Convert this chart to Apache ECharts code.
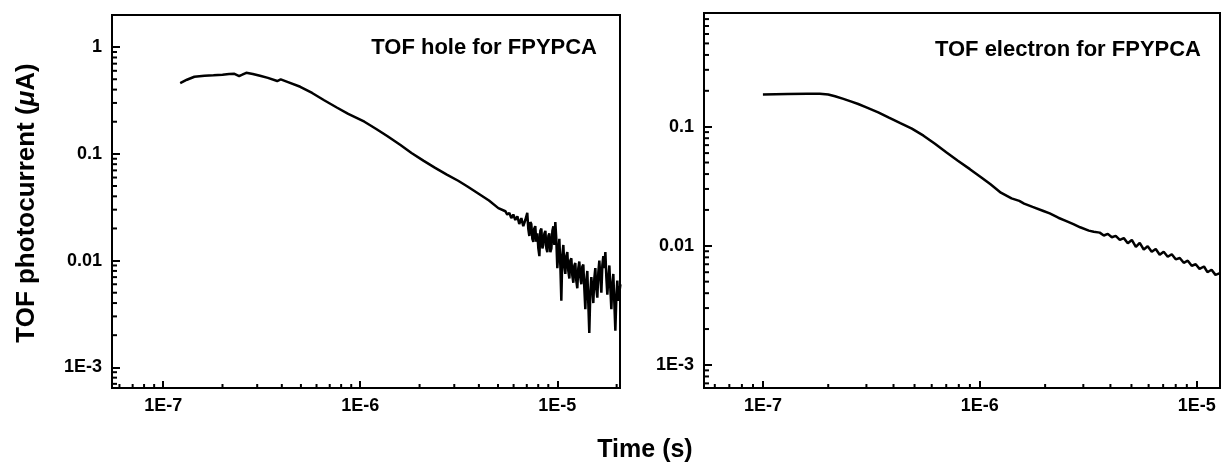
<!DOCTYPE html>
<html>
<head>
<meta charset="utf-8">
<script src="https://cdn.jsdelivr.net/npm/echarts@6/dist/echarts.min.js"></script>
<style>
  html, body { margin: 0; padding: 0; background: #fff; }
  #chart { width: 1223px; height: 472px; }
</style>
</head>
<body>
<div id="chart"></div>
<script>
// TOF hole transient (left panel)
const holeTime = [
  1.22e-7, 1.32e-7, 1.44e-7, 1.62e-7, 1.80e-7, 2.0e-7, 2.16e-7, 2.30e-7, 2.43e-7, 2.52e-7,
  2.64e-7, 2.85e-7, 3.1e-7, 3.4e-7, 3.79e-7, 3.95e-7, 4.3e-7, 4.96e-7, 5.7e-7, 6.56e-7,
  7.6e-7, 8.69e-7, 1.05e-6, 1.2e-6, 1.37e-6, 1.6e-6, 1.82e-6, 2.1e-6, 2.4e-6, 2.75e-6,
  3.14e-6, 3.5e-6, 3.97e-6, 4.5e-6, 5.02e-6,
  5.45e-6, 5.57e-6, 5.71e-6, 5.84e-6, 5.98e-6, 6.12e-6, 6.27e-6, 6.41e-6, 6.57e-6, 6.72e-6,
  6.88e-6, 7.04e-6, 7.12e-6, 7.21e-6, 7.30e-6, 7.38e-6, 7.47e-6, 7.56e-6, 7.64e-6, 7.73e-6,
  7.82e-6, 7.92e-6, 8.01e-6, 8.11e-6, 8.20e-6, 8.30e-6, 8.40e-6, 8.49e-6, 8.60e-6, 8.70e-6,
  8.80e-6, 8.90e-6, 9.01e-6, 9.11e-6, 9.22e-6, 9.33e-6, 9.44e-6, 9.55e-6, 9.66e-6, 9.77e-6,
  9.88e-6, 1.00e-5, 1.012e-5, 1.024e-5, 1.036e-5, 1.048e-5, 1.060e-5, 1.073e-5, 1.085e-5, 1.098e-5,
  1.111e-5, 1.124e-5, 1.137e-5, 1.151e-5, 1.164e-5, 1.178e-5, 1.192e-5, 1.206e-5, 1.220e-5, 1.234e-5,
  1.248e-5, 1.263e-5, 1.278e-5, 1.293e-5, 1.308e-5, 1.324e-5, 1.339e-5, 1.355e-5, 1.371e-5, 1.387e-5,
  1.403e-5, 1.420e-5, 1.436e-5, 1.453e-5, 1.470e-5, 1.488e-5, 1.505e-5, 1.523e-5, 1.541e-5, 1.559e-5,
  1.577e-5, 1.596e-5, 1.615e-5, 1.634e-5, 1.653e-5, 1.673e-5, 1.692e-5, 1.712e-5, 1.732e-5, 1.753e-5,
  1.773e-5, 1.794e-5, 1.815e-5, 1.837e-5, 1.858e-5, 1.880e-5, 1.902e-5, 1.924e-5, 1.947e-5, 1.970e-5,
  1.993e-5, 2.016e-5, 2.040e-5, 2.064e-5, 2.09e-5
];
const holeCurrent = [
  0.461, 0.495, 0.528, 0.540, 0.545, 0.552, 0.560, 0.562, 0.536, 0.552,
  0.575, 0.560, 0.540, 0.515, 0.481, 0.498, 0.470, 0.425, 0.372, 0.318,
  0.272, 0.237, 0.200, 0.172, 0.147, 0.121, 0.102, 0.086, 0.074, 0.064,
  0.056, 0.0495, 0.0425, 0.0365, 0.031,
  0.029, 0.027, 0.028, 0.025, 0.027, 0.024, 0.026, 0.022, 0.025, 0.021,
  0.024, 0.028, 0.020, 0.017, 0.023, 0.022, 0.016, 0.015, 0.020, 0.021,
  0.015, 0.018, 0.013, 0.011, 0.019, 0.020, 0.013, 0.014, 0.018, 0.019,
  0.013, 0.012, 0.017, 0.018, 0.012, 0.013, 0.019, 0.021, 0.014, 0.023,
  0.016, 0.0085, 0.012, 0.016, 0.009, 0.0042, 0.011, 0.014, 0.009, 0.0075,
  0.011, 0.012, 0.008, 0.0068, 0.010, 0.0105, 0.0072, 0.0062, 0.009, 0.0095,
  0.0065, 0.0055, 0.0085, 0.0098, 0.0070, 0.0060, 0.0088, 0.0092, 0.0055, 0.0035,
  0.0065, 0.0080, 0.0040, 0.0021, 0.0050, 0.0070, 0.0055, 0.0040, 0.0068, 0.0085,
  0.0055, 0.0045, 0.0078, 0.0100, 0.0070, 0.0050, 0.0090, 0.0110, 0.0085, 0.0120,
  0.0070, 0.0048, 0.0068, 0.0090, 0.0055, 0.0035, 0.0060, 0.0075, 0.0040, 0.0022,
  0.0045, 0.0065, 0.0042, 0.0050, 0.0060
];

// TOF electron transient (right panel)
const electronTime = [
  1.00e-7, 1.3e-7, 1.6e-7, 1.83e-7, 2.0e-7, 2.15e-7, 2.35e-7, 2.54e-7, 2.75e-7, 2.98e-7,
  3.4e-7, 3.81e-7, 4.3e-7, 4.86e-7, 5.5e-7, 6.21e-7, 7.0e-7, 7.92e-7, 9.0e-7, 1.02e-6,
  1.12e-6, 1.25e-6, 1.4e-6, 1.52e-6, 1.6e-6, 1.75e-6, 1.95e-6, 2.1e-6, 2.3e-6, 2.49e-6,
  2.7e-6, 2.9e-6, 3.18e-6, 3.35e-6,
  3.57e-6, 3.73e-6, 3.89e-6, 4.06e-6, 4.23e-6, 4.42e-6, 4.61e-6, 4.81e-6, 5.02e-6, 5.24e-6,
  5.46e-6, 5.70e-6, 5.94e-6, 6.20e-6, 6.47e-6, 6.75e-6, 7.04e-6, 7.35e-6, 7.67e-6, 8.00e-6,
  8.35e-6, 8.71e-6, 9.09e-6, 9.48e-6, 9.89e-6, 1.03e-5, 1.08e-5, 1.12e-5, 1.17e-5, 1.22e-5,
  1.28e-5
];
const electronCurrent = [
  0.186, 0.188, 0.189, 0.189, 0.186, 0.180, 0.171, 0.163, 0.155, 0.146,
  0.132, 0.119, 0.107, 0.0962, 0.084, 0.0719, 0.061, 0.0518, 0.044, 0.0373,
  0.0328, 0.0279, 0.0250, 0.0238, 0.0226, 0.0212, 0.0197, 0.0187, 0.0172, 0.0162,
  0.0152, 0.0143, 0.0134, 0.0131,
  0.0129, 0.0122, 0.0126, 0.0118, 0.0121, 0.0112, 0.0116, 0.0105, 0.0112, 0.0098,
  0.0106, 0.0093, 0.0099, 0.0089, 0.0094, 0.0084, 0.0089, 0.0081, 0.0085, 0.0077,
  0.0079, 0.0072, 0.0075, 0.0068, 0.0070, 0.0064, 0.0067, 0.0060, 0.0063, 0.0057,
  0.0059
];

const holeXRange = [5.5e-8, 2.08e-5];
const electronXRange = [5.35e-8, 1.28e-5];
const holeYRange = [6.4e-4, 2];
const electronYRange = [6.4e-4, 0.9];

const xTickLabels = { '-7': '1E-7', '-6': '1E-6', '-5': '1E-5' };
const yTickLabels = { '0': '1', '-1': '0.1', '-2': '0.01', '-3': '1E-3' };
const minorSteps = [2, 3, 4, 5, 6, 7, 8, 9];

const FONT = '"Liberation Sans", Arial, sans-serif';

const chart = echarts.init(document.getElementById('chart'));

const decadeLabel = labels => value => {
  const lg = Math.log10(value);
  const e = Math.round(lg);
  if (Math.abs(lg - e) > 1e-6) return '';
  return labels[e] || '';
};

// log minor tick positions inside a range (2..9 x 10^n)
const minorTicks = range => {
  const out = [];
  for (let e = -9; e <= 1; e++) {
    minorSteps.forEach(m => {
      const v = m * Math.pow(10, e);
      if (v > range[0] * 1.002 && v < range[1] * 0.998) out.push(v);
    });
  }
  return out;
};

const axisText = { color: '#000', fontSize: 18, fontWeight: 'bold', fontFamily: FONT };

const makeXAxis = (gridIndex, range) => ({
  type: 'log',
  logBase: 10,
  gridIndex,
  min: range[0],
  max: range[1],
  axisLine: { show: true, lineStyle: { color: '#000', width: 2 } },
  axisTick: { show: true, inside: true, length: 7, lineStyle: { color: '#000', width: 2 } },
  axisLabel: { ...axisText, margin: 9, formatter: decadeLabel(xTickLabels) },
  splitLine: { show: false },
  minorTick: { show: false },
});

const makeYAxis = (gridIndex, range) => ({
  type: 'log',
  logBase: 10,
  gridIndex,
  min: range[0],
  max: range[1],
  axisLine: { show: true, lineStyle: { color: '#000', width: 2 } },
  axisTick: { show: true, inside: true, length: 8, lineStyle: { color: '#000', width: 2 } },
  axisLabel: { ...axisText, margin: 10, formatter: decadeLabel(yTickLabels) },
  splitLine: { show: false },
  minorTick: { show: false },
});

// short inward tick marks drawn at scale positions
const tickSeries = (axisIdx, data, horizontal, len) => ({
  type: 'custom',
  xAxisIndex: axisIdx,
  yAxisIndex: axisIdx,
  silent: true,
  clip: false,
  z: 5,
  data,
  renderItem: (params, api) => {
    const p = api.coord([api.value(0), api.value(1)]);
    return {
      type: 'line',
      shape: horizontal
        ? { x1: p[0], y1: p[1], x2: p[0] + len, y2: p[1] }
        : { x1: p[0], y1: p[1], x2: p[0], y2: p[1] - len },
      style: { stroke: '#000', lineWidth: 2 },
    };
  },
});

const lineSeries = (idx, xs, ys) => ({
  type: 'line',
  xAxisIndex: idx,
  yAxisIndex: idx,
  showSymbol: false,
  smooth: false,
  lineStyle: { color: '#000', width: 2.5 },
  data: xs.map((t, i) => [t, ys[i]]),
});

const option = {
  backgroundColor: '#fff',
  animation: false,
  grid: [
    { left: 112, top: 15, width: 508, height: 373, show: true, borderColor: '#000', borderWidth: 2 },
    { left: 704, top: 13, width: 516, height: 375, show: true, borderColor: '#000', borderWidth: 2 },
  ],
  xAxis: [makeXAxis(0, holeXRange), makeXAxis(1, electronXRange)],
  yAxis: [makeYAxis(0, holeYRange), makeYAxis(1, electronYRange)],
  series: [
    lineSeries(0, holeTime, holeCurrent),
    lineSeries(1, electronTime, electronCurrent),
    tickSeries(0, minorTicks(holeXRange).map(v => [v, holeYRange[0]]), false, 4),
    tickSeries(0, minorTicks(holeYRange).map(v => [holeXRange[0], v]), true, 5),
    tickSeries(1, minorTicks(electronXRange).map(v => [v, electronYRange[0]]), false, 4),
    tickSeries(1, minorTicks(electronYRange).map(v => [electronXRange[0], v]), true, 5),
  ],
  graphic: [
    {
      type: 'text', x: 597, y: 48,
      style: { text: 'TOF hole for FPYPCA', fill: '#000', fontSize: 22, fontWeight: 'bold', fontFamily: FONT, align: 'right', verticalAlign: 'middle' },
    },
    {
      type: 'text', x: 1201, y: 50,
      style: { text: 'TOF electron for FPYPCA', fill: '#000', fontSize: 22, fontWeight: 'bold', fontFamily: FONT, align: 'right', verticalAlign: 'middle' },
    },
    {
      type: 'text', x: 645, y: 450,
      style: { text: 'Time (s)', fill: '#000', fontSize: 25, fontWeight: 'bold', fontFamily: FONT, align: 'center', verticalAlign: 'middle' },
    },
    {
      type: 'text', x: 27, y: 203, rotation: Math.PI / 2,
      style: {
        text: 'TOF photocurrent ({i|μ}A)',
        fill: '#000', fontSize: 26, fontWeight: 'bold', fontFamily: FONT,
        align: 'center', verticalAlign: 'middle',
        rich: { i: { fontStyle: 'italic', fontSize: 26, fontWeight: 'bold', fontFamily: FONT, fill: '#000' } },
      },
    },
  ],
};

chart.setOption(option);
</script>
</body>
</html>
